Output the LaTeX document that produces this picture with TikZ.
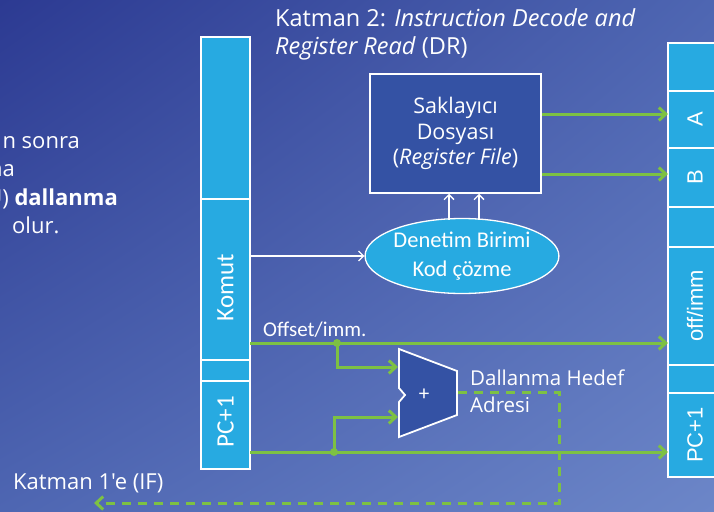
\documentclass[tikz,border=0pt]{standalone}
\usepackage{fontspec}
\setmainfont{Open Sans}[Ligatures=TeXOff]
\newfontfamily\calfont{Carlito}
\newfontfamily\arialfont{Liberation Sans}
\usetikzlibrary{arrows.meta,positioning,shapes.geometric,calc,shadings}
\definecolor{bgdark}{RGB}{44,58,146}
\definecolor{bgmid}{RGB}{78,102,178}
\definecolor{bglight}{RGB}{108,134,200}
\definecolor{regcyan}{RGB}{39,170,225}
\definecolor{rfblue}{RGB}{52,82,164}
\definecolor{wiregreen}{RGB}{125,193,67}

\begin{document}
\begin{tikzpicture}[x=1pt, y=-1pt,
  seg/.style={draw=white, line width=1.2pt, fill=regcyan, minimum width=49pt, inner sep=0pt, outer sep=0pt},
  rseg/.style={seg, minimum width=60pt},
  seglbl/.style={rotate=90, text=white, inner sep=0pt, font=\calfont\fontsize{25}{30}\selectfont},
  rseglbl/.style={rotate=90, text=white, inner sep=0pt, font=\arialfont\fontsize{22}{26}\selectfont},
  comic/.style={text=white, inner sep=0pt, align=left, font=\fontsize{22}{27}\selectfont},
  cal/.style={text=white, inner sep=0pt, font=\calfont\fontsize{21}{29}\selectfont},
  gline/.style={wiregreen, line width=3pt},
  garr/.style={gline, -{Straight Barb[length=7pt,width=13pt]}},
  gdash/.style={gline, dash pattern=on 9pt off 7pt, -{Straight Barb[length=7pt,width=13pt]}},
  warr/.style={white, line width=1.3pt, -{Straight Barb[length=5pt,width=10pt]}},
  dot/.style={circle, fill=wiregreen, inner sep=0pt, minimum size=8pt}]

\useasboundingbox (0,0) rectangle (714,511);
\shade[upper left=bgdark, upper right=bgmid, lower left=bgmid, lower right=bglight] (0,0) rectangle (714,511);

% left text, cut by the slide edge
\node[comic, anchor=base east] (t1) at (80,148) {n sonra};
\node[comic, anchor=base east] (t2) at (15,176) {na};
\node[comic, anchor=base east] (t3) at (118,205) {U) \textbf{dallanma}};
\node[comic, anchor=base west] (t4) at (12,233) {olur.};

% title
\node[comic, anchor=north west, font=\fontsize{23.5}{28}\selectfont] (title) at (275,8)
  {Katman 2: \textit{Instruction Decode and}\\\textit{Register Read} (DR)};

% left pipeline register
\node[seg, minimum height=162pt, anchor=north] (ltop) at (225.5,37) {};
\node[seg, minimum height=161pt, below=0pt of ltop] (komut) {};
\node[seg, minimum height=21pt, below=0pt of komut] (lgap) {};
\node[seg, minimum height=88pt, below=0pt of lgap] (lpc) {};
\node[seglbl] at ($(komut.center)+(0,8)$) {Komut};
\node[seglbl] at ($(lpc.center)+(0,-3)$) {PC+1};

% right pipeline register
\node[rseg, minimum height=48pt, anchor=north] (r1) at (698,43) {};
\node[rseg, minimum height=57pt, below=0pt of r1] (ra) {};
\node[rseg, minimum height=59pt, below=0pt of ra] (rb) {};
\node[rseg, minimum height=40pt, below=0pt of rb] (r4) {};
\node[rseg, minimum height=118pt, below=0pt of r4] (ro) {};
\node[rseg, minimum height=28pt, below=0pt of ro] (r6) {};
\node[rseg, minimum height=84pt, below=0pt of r6] (rp) {};
\node[rseglbl] at (ra.center -| 695,0) {A};
\node[rseglbl] at (rb.center -| 695,0) {B};
\node[rseglbl] at (ro.center -| 695,0) {off/imm};
\node[rseglbl] at (rp.center -| 695,0) {PC+1};

% register file and control
\node[draw=white, line width=1.5pt, fill=rfblue, minimum width=171pt, minimum height=119pt,
  comic, align=center, font=\fontsize{21.5}{25.5}\selectfont] (rf) at (455.5,133.5)
  {Saklayıcı\\Dosyası\\(\textit{Register File})};
\node[ellipse, draw=white, line width=1.3pt, fill=regcyan, minimum width=142pt, minimum height=75pt,
  cal, align=center, font=\calfont\fontsize{22.5}{29}\selectfont] (ctl) at (462,256) {Denetim Birimi\\Kod çözme};
\draw[warr] (komut.east |- ctl.west) -- (ctl.west);
\draw[warr] ($(ctl.north)+(-13,2)$) -- ($(rf.south)+(-6.5,0)$);
\draw[warr] ($(ctl.north)+(17,2)$) -- ($(rf.south)+(23.5,0)$);

% register outputs
\draw[garr] (rf.east |- 0,114) -- (ra.west |- 0,114);
\draw[garr] (rf.east |- 0,174) -- (rb.west |- 0,174);

% branch adder
\draw[white, line width=1.8pt, fill=rfblue, line join=miter]
  (399,349) -- (457,371) -- (457,415) -- (399,437) -- (399,402) -- (405,395) -- (399,388) -- cycle;
\node[cal] (plus) at (424,395) {+};
\coordinate (ain1) at (398,367);
\coordinate (ain2) at (398,417);
\coordinate (aout) at (458,392);

\node[dot] (d1) at (337,343) {};
\node[dot] (d2) at (334,452) {};
\draw[garr] (komut.east |- d1) -- (ro.west |- d1);
\node[cal, anchor=base west] (offl) at (263,336) {Offset/imm.};
\draw[garr] (d1.center) |- (ain1);
\draw[garr] (lpc.east |- d2) -- (rp.west |- d2);
\draw[garr] (d2.center) |- (ain2);

% branch target back to stage 1
\node[comic, anchor=base west, font=\fontsize{20.5}{27}\selectfont] (tgt) at (470,412) {Dallanma Hedef\\Adresi};
\coordinate (fbcorner) at (559,503);
\coordinate (fbend) at (94,503);
\draw[gdash] (aout) -| (fbcorner) -- (fbend);
\node[comic, anchor=base west] (ifl) at (13,489) {Katman 1'e (IF)};
\end{tikzpicture}
\end{document}
